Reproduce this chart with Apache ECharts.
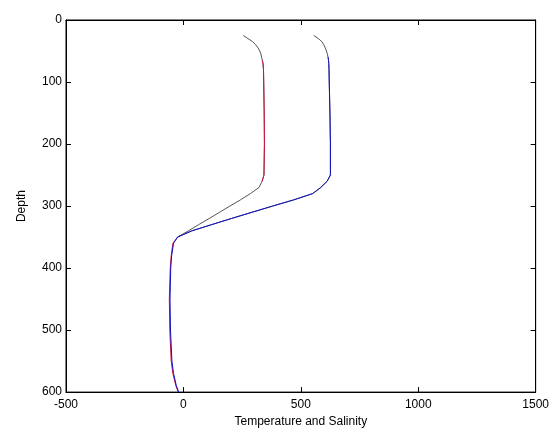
<!DOCTYPE html>
<html>
<head>
<meta charset="utf-8">
<script src="https://cdn.jsdelivr.net/npm/echarts@6/dist/echarts.min.js"></script>
<style>html,body{margin:0;padding:0;background:#fff}#c{width:552px;height:433px}</style>
</head>
<body>
<div id="c"></div>
<script>
var depths = [25, 30, 35, 40, 45, 50, 55, 60, 65, 70, 80, 100, 150, 200, 250, 260, 270, 280, 290, 300, 310, 320, 330, 340, 350, 360, 380, 400, 450, 500, 550, 570, 590, 600];
var leftValues = [255, 275, 295, 308, 318, 325, 330, 333, 336, 339, 341, 342, 344, 345, 343, 335, 322, 285, 243, 198, 154, 110, 65, 21, -24, -45, -52, -56, -60, -58, -52, -45, -32, -22];
var rightValues = [555, 575, 590, 598, 604, 609, 613, 616, 618, 619, 620, 621, 624, 626, 626, 612, 585, 550, 470, 380, 292, 205, 120, 36, -25, -42, -50, -54, -57, -55, -49, -42, -30, -20];
// depth ranges where the coloured lines are visible
var redRanges = [[65, 260], [350, 600]];
var blueRanges = [[60, 600]];
var blackRanges = [[25, 350]];
var xTicks = [-500, 0, 500, 1000, 1500];
var yTicks = [0, 100, 200, 300, 400, 500, 600];

function inRanges(d, ranges) {
  for (var i = 0; i < ranges.length; i++) if (d >= ranges[i][0] && d <= ranges[i][1]) return true;
  return false;
}
function build(values, ranges) {
  var out = [];
  for (var i = 0; i < depths.length; i++) {
    out.push(inRanges(depths[i], ranges) ? [values[i], depths[i]] : ['-', '-']);
  }
  return out;
}

var font = 'Liberation Sans, Arial, sans-serif';
var chart = echarts.init(document.getElementById('c'), null, {renderer: 'canvas'});
function axisCommon() {
  return {
    axisLine: {show: true, onZero: false, lineStyle: {color: '#000', width: 1}},
    axisTick: {show: true, inside: true, length: 5, lineStyle: {color: '#000'}},
    splitLine: {show: false}
  };
}
chart.setOption({
  animation: false,
  backgroundColor: '#fff',
  grid: {left: 66, top: 20, right: 16, bottom: 40, show: true, borderColor: '#000', borderWidth: 1, backgroundColor: 'transparent'},
  xAxis: [
    Object.assign({
      type: 'value', position: 'bottom', min: -500, max: 1500, interval: 500,
      name: 'Temperature and Salinity', nameLocation: 'middle', nameGap: 16,
      nameTextStyle: {color: '#000', fontSize: 12, fontFamily: font},
      axisLabel: {color: '#000', fontSize: 12, fontFamily: font, margin: 7,
        formatter: function (v) { return xTicks.indexOf(v) >= 0 ? String(v) : ''; }}
    }, axisCommon()),
    Object.assign({
      type: 'value', position: 'top', min: -500, max: 1500, interval: 500,
      axisLabel: {show: false}
    }, axisCommon())
  ],
  yAxis: [
    Object.assign({
      type: 'value', position: 'left', inverse: true, min: 0, max: 600, interval: 100,
      name: 'Depth', nameLocation: 'middle', nameGap: 38,
      nameTextStyle: {color: '#000', fontSize: 12, fontFamily: font},
      axisLabel: {color: '#000', fontSize: 12, fontFamily: font, margin: 4,
        formatter: function (v) { return yTicks.indexOf(v) >= 0 ? String(v) : ''; }}
    }, axisCommon()),
    Object.assign({
      type: 'value', position: 'right', inverse: true, min: 0, max: 600, interval: 100,
      axisLabel: {show: false}
    }, axisCommon())
  ],
  series: [
    {type: 'line', data: build(leftValues, blackRanges), showSymbol: false, symbol: 'none',
      lineStyle: {color: '#555', width: 1}, connectNulls: false},
    {type: 'line', data: build(rightValues, blackRanges), showSymbol: false, symbol: 'none',
      lineStyle: {color: '#555', width: 1}, connectNulls: false},
    {type: 'line', data: build(leftValues, redRanges), showSymbol: false, symbol: 'none',
      lineStyle: {color: '#d0103a', width: 1}, connectNulls: false},
    {type: 'line', data: build(rightValues, blueRanges), showSymbol: false, symbol: 'none',
      lineStyle: {color: '#1010c8', width: 1}, connectNulls: false}
  ]
});
</script>
</body>
</html>
